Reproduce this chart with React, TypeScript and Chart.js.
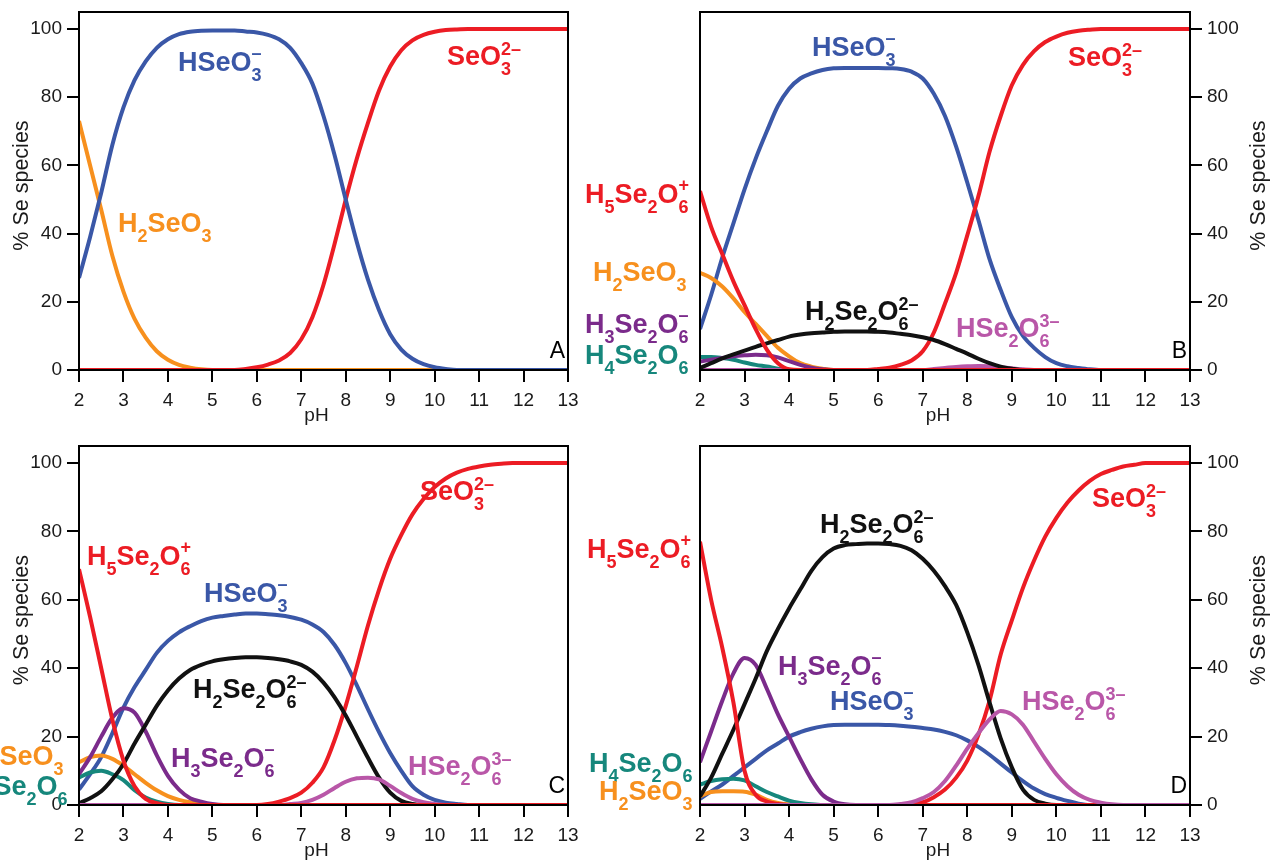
import React, { useEffect, useRef } from "react";
import { Chart, registerables } from "chart.js";

Chart.register(...registerables);

const W = 1270;
const H = 862;

// ---------- shared axis data ----------
const pH = [
  2, 2.25, 2.5, 2.75, 3, 3.25, 3.5, 3.75, 4, 4.25, 4.5, 4.75, 5, 5.25, 5.5, 5.75,
  6, 6.25, 6.5, 6.75, 7, 7.25, 7.5, 7.75, 8, 8.25, 8.5, 8.75, 9, 9.25, 9.5, 9.75,
  10, 10.25, 10.5, 10.75, 11, 11.25, 11.5, 11.75, 12, 12.25, 12.5, 12.75, 13,
];
const xTicks = [2, 3, 4, 5, 6, 7, 8, 9, 10, 11, 12, 13];
const yTicks = [0, 20, 40, 60, 80, 100];

// ---------- Panel A ----------
const A_H2SeO3 = [
  73, 60, 47, 33.5,
  23, 15, 9.5, 5.5,
  3, 1.5, 0.7, 0.2,
  0, 0, 0, 0,
  0, 0, 0, 0,
  0, 0, 0, 0,
  0, 0, 0, 0,
  0, 0, 0, 0,
  0, 0, 0, 0,
  0, 0, 0, 0,
  0, 0, 0, 0,
  0,
];
const A_HSeO3 = [
  27, 39, 52, 66,
  77, 85, 90.5, 94.5,
  97, 98.5, 99.2, 99.5,
  99.6, 99.6, 99.6, 99.3,
  99, 98.3, 97, 94.5,
  90, 84, 74.5, 63,
  50, 37.5, 26.5, 17.5,
  10.5, 6, 3.3, 1.7,
  0.8, 0.3, 0, 0,
  0, 0, 0, 0,
  0, 0, 0, 0,
  0,
];
const A_SeO3 = [
  0, 0, 0, 0,
  0, 0, 0, 0,
  0, 0, 0, 0,
  0, 0, 0, 0.3,
  0.8, 1.6, 2.8, 5,
  9, 15.5, 25, 37,
  50, 62, 72.5, 82,
  89, 93.8, 96.7, 98.3,
  99.2, 99.7, 99.9, 100,
  100, 100, 100, 100,
  100, 100, 100, 100,
  100,
];

// ---------- Panel B ----------
const B_H5Se2O6 = [
  52.5, 42, 34, 26,
  19, 12, 6, 2,
  0.2, 0, 0, 0,
  0, 0, 0, 0,
  0, 0, 0, 0,
  0, 0, 0, 0,
  0, 0, 0, 0,
  0, 0, 0, 0,
  0, 0, 0, 0,
  0, 0, 0, 0,
  0, 0, 0, 0,
  0,
];
const B_H2SeO3 = [
  28.5, 27, 24.5, 21,
  17, 13.5, 10, 6.5,
  4, 2, 1, 0.4,
  0, 0, 0, 0,
  0, 0, 0, 0,
  0, 0, 0, 0,
  0, 0, 0, 0,
  0, 0, 0, 0,
  0, 0, 0, 0,
  0, 0, 0, 0,
  0, 0, 0, 0,
  0,
];
const B_H3Se2O6 = [
  2.5, 3, 3.5, 4,
  4.3, 4.5, 4.3, 3.7,
  2.6, 1.5, 0.7, 0.2,
  0, 0, 0, 0,
  0, 0, 0, 0,
  0, 0, 0, 0,
  0, 0, 0, 0,
  0, 0, 0, 0,
  0, 0, 0, 0,
  0, 0, 0, 0,
  0, 0, 0, 0,
  0,
];
const B_H4Se2O6 = [
  3.8, 3.8, 3.5, 3,
  2.2, 1.5, 1, 0.4,
  0, 0, 0, 0,
  0, 0, 0, 0,
  0, 0, 0, 0,
  0, 0, 0, 0,
  0, 0, 0, 0,
  0, 0, 0, 0,
  0, 0, 0, 0,
  0, 0, 0, 0,
  0, 0, 0, 0,
  0,
];
const B_HSeO3 = [
  12, 22, 33, 43,
  53, 62, 70, 77.5,
  82.5, 85.5, 87, 88,
  88.5, 88.6, 88.6, 88.6,
  88.6, 88.5, 88.3, 87.5,
  85.5, 81, 74.5, 65.5,
  55, 44, 32.5, 23.5,
  15.5, 10, 6.5, 3.8,
  2, 1.1, 0.6, 0.2,
  0, 0, 0, 0,
  0, 0, 0, 0,
  0,
];
const B_H2Se2O6 = [
  0.6, 2, 3.4, 4.6,
  5.7, 6.8, 7.8, 8.8,
  9.8, 10.4, 10.8, 11,
  11.2, 11.3, 11.3, 11.3,
  11.2, 11, 10.6, 10.2,
  9.6, 8.8, 7.6, 6.2,
  4.8, 3.3, 2, 1,
  0.4, 0, 0, 0,
  0, 0, 0, 0,
  0, 0, 0, 0,
  0, 0, 0, 0,
  0,
];
const B_HSe2O6 = [
  0, 0, 0, 0,
  0, 0, 0, 0,
  0, 0, 0, 0,
  0, 0, 0, 0,
  0, 0, 0, 0,
  0, 0.3, 0.6, 0.9,
  1.1, 1.2, 1.1, 0.8,
  0.5, 0.2, 0, 0,
  0, 0, 0, 0,
  0, 0, 0, 0,
  0, 0, 0, 0,
  0,
];
const B_SeO3 = [
  0, 0, 0, 0,
  0, 0, 0, 0,
  0, 0, 0, 0,
  0, 0, 0, 0,
  0.3, 0.7, 1.5, 2.8,
  5.5, 11, 19.5, 28.5,
  39.5, 51, 64, 74.5,
  83.5, 89.5, 93.5, 96.2,
  97.8, 98.9, 99.5, 99.8,
  100, 100, 100, 100,
  100, 100, 100, 100,
  100,
];

// ---------- Panel C ----------
const C_H5Se2O6 = [
  69, 55, 40, 25,
  13, 5.5, 1.8, 0.5,
  0, 0, 0, 0,
  0, 0, 0, 0,
  0, 0, 0, 0,
  0, 0, 0, 0,
  0, 0, 0, 0,
  0, 0, 0, 0,
  0, 0, 0, 0,
  0, 0, 0, 0,
  0, 0, 0, 0,
  0,
];
const C_H2SeO3 = [
  12.5, 14, 14.5, 13.5,
  11.5, 9, 6.5, 4.3,
  2.6, 1.5, 0.8, 0.4,
  0, 0, 0, 0,
  0, 0, 0, 0,
  0, 0, 0, 0,
  0, 0, 0, 0,
  0, 0, 0, 0,
  0, 0, 0, 0,
  0, 0, 0, 0,
  0, 0, 0, 0,
  0,
];
const C_H4Se2O6 = [
  8, 9.5, 10, 9,
  7.3, 4.3, 2.2, 1,
  0.3, 0, 0, 0,
  0, 0, 0, 0,
  0, 0, 0, 0,
  0, 0, 0, 0,
  0, 0, 0, 0,
  0, 0, 0, 0,
  0, 0, 0, 0,
  0, 0, 0, 0,
  0, 0, 0, 0,
  0,
];
const C_H3Se2O6 = [
  9, 14, 20, 25.5,
  28.3, 27, 21.5, 14.5,
  8.5, 4.5, 2, 1,
  0.3, 0, 0, 0,
  0, 0, 0, 0,
  0, 0, 0, 0,
  0, 0, 0, 0,
  0, 0, 0, 0,
  0, 0, 0, 0,
  0, 0, 0, 0,
  0, 0, 0, 0,
  0,
];
const C_HSeO3 = [
  4.5, 9, 14, 21,
  28.5, 34.5, 39.5, 44.5,
  48, 50.5, 52.3, 53.8,
  54.8, 55.3, 55.7, 56,
  56, 55.8, 55.5, 55,
  54.2, 52.8, 50.6, 46.8,
  41.5, 35, 28, 21.3,
  15.2, 10, 5.5, 3,
  1.5, 0.7, 0.3, 0,
  0, 0, 0, 0,
  0, 0, 0, 0,
  0,
];
const C_H2Se2O6 = [
  0.5, 2, 4, 7.5,
  12, 18, 23.5, 29,
  33.5, 37, 39.5, 41,
  42, 42.6, 43, 43.2,
  43.2, 43, 42.6, 42,
  41, 39, 35.8, 31.5,
  26.2, 20, 13.8, 8,
  3.6, 1.2, 0.3, 0,
  0, 0, 0, 0,
  0, 0, 0, 0,
  0, 0, 0, 0,
  0,
];
const C_HSe2O6 = [
  0, 0, 0, 0,
  0, 0, 0, 0,
  0, 0, 0, 0,
  0, 0, 0, 0,
  0, 0, 0, 0.3,
  0.6, 1.5, 3, 5,
  6.8, 7.8, 8, 7.5,
  5.6, 3.5, 1.8, 0.8,
  0.3, 0, 0, 0,
  0, 0, 0, 0,
  0, 0, 0, 0,
  0,
];
const C_SeO3 = [
  0, 0, 0, 0,
  0, 0, 0, 0,
  0, 0, 0, 0,
  0, 0, 0, 0,
  0, 0.3, 1, 2,
  3.6, 6.5, 11, 19,
  29, 40.5, 52.5, 63,
  72, 79, 85, 89.5,
  93, 95.5, 97.2, 98.3,
  99, 99.5, 99.8, 100,
  100, 100, 100, 100,
  100,
];

// ---------- Panel D ----------
const D_H5Se2O6 = [
  77, 60, 46, 30,
  10, 3, 1, 0.3,
  0, 0, 0, 0,
  0, 0, 0, 0,
  0, 0, 0, 0,
  0, 0, 0, 0,
  0, 0, 0, 0,
  0, 0, 0, 0,
  0, 0, 0, 0,
  0, 0, 0, 0,
  0, 0, 0, 0,
  0,
];
const D_H2SeO3 = [
  2.5, 3.8, 4, 4,
  3.9, 3, 1.5, 0.6,
  0.2, 0, 0, 0,
  0, 0, 0, 0,
  0, 0, 0, 0,
  0, 0, 0, 0,
  0, 0, 0, 0,
  0, 0, 0, 0,
  0, 0, 0, 0,
  0, 0, 0, 0,
  0, 0, 0, 0,
  0,
];
const D_H4Se2O6 = [
  6, 7, 7.5, 7.7,
  7.2, 5.5, 3.8, 2.5,
  1.3, 0.6, 0.2, 0,
  0, 0, 0, 0,
  0, 0, 0, 0,
  0, 0, 0, 0,
  0, 0, 0, 0,
  0, 0, 0, 0,
  0, 0, 0, 0,
  0, 0, 0, 0,
  0, 0, 0, 0,
  0,
];
const D_H3Se2O6 = [
  12.5, 21.5, 30.5, 38.5,
  43, 41, 34, 26.5,
  20, 13.5, 7.5, 3,
  1, 0.2, 0, 0,
  0, 0, 0, 0,
  0, 0, 0, 0,
  0, 0, 0, 0,
  0, 0, 0, 0,
  0, 0, 0, 0,
  0, 0, 0, 0,
  0, 0, 0, 0,
  0,
];
const D_HSeO3 = [
  1.8, 4, 6, 8.5,
  11, 13.5, 16, 18,
  20, 21.3, 22.3, 23,
  23.4, 23.5, 23.5, 23.5,
  23.5, 23.4, 23.2, 22.9,
  22.5, 22.1, 21.4, 20.4,
  18.9, 17, 14.7, 12.1,
  9.5, 7, 4.8, 3.2,
  2.1, 1.2, 0.4, 0,
  0, 0, 0, 0,
  0, 0, 0, 0,
  0,
];
const D_H2Se2O6 = [
  2.5, 8, 15, 22,
  29.5, 37, 45, 51.5,
  57.5, 63, 68.5, 72.5,
  75, 76, 76.3, 76.5,
  76.5, 76.3, 75.8, 74.5,
  72, 68.5, 64, 58.5,
  50.5, 41, 30, 19.5,
  11, 4.5, 1.5, 0.4,
  0, 0, 0, 0,
  0, 0, 0, 0,
  0, 0, 0, 0,
  0,
];
const D_HSe2O6 = [
  0, 0, 0, 0,
  0, 0, 0, 0,
  0, 0, 0, 0,
  0, 0, 0, 0,
  0, 0, 0.3, 0.8,
  2, 3.8, 7, 11.5,
  16.5, 21, 25, 27.5,
  26.5, 23.5, 18.5, 13.5,
  9, 5.5, 3, 1.5,
  0.7, 0.2, 0, 0,
  0, 0, 0, 0,
  0,
];
const D_SeO3 = [
  0, 0, 0, 0,
  0, 0, 0, 0,
  0, 0, 0, 0,
  0, 0, 0, 0,
  0, 0, 0, 0.3,
  0.8, 2.3, 4.5, 8,
  13, 20.5, 30.5, 44,
  54, 63.5, 71.5, 78.5,
  84, 88.5, 92, 94.8,
  96.8, 98, 99, 99.5,
  100, 100, 100, 100,
  100,
];

// ---------- styles ----------
const COL = {
  blue: "#3a57a7",
  red: "#ec1c24",
  orange: "#f7901e",
  black: "#111111",
  purple: "#7b2b8b",
  teal: "#16877c",
  pink: "#b957a8",
};
const FONT_FAMILY = '"Liberation Sans", Arial, Helvetica, sans-serif';
const MAIN_FONT = `bold 27px ${FONT_FAMILY}`;
const SMALL_FONT = `bold 18px ${FONT_FAMILY}`;
const TICK_FONT = `19px ${FONT_FAMILY}`;
const TITLE_FONT = `21.5px ${FONT_FAMILY}`;

type Series = { values: number[]; color: string };
type Label = { text: string; color: string; x: number; y: number };
type PanelCfg = {
  id: string;
  letter: string;
  left: number;
  right: number;
  top: number;
  bottom: number;
  axisSide: "left" | "right";
  series: Series[];
  labels: Label[];
};

// series listed top-most first
const panels: PanelCfg[] = [
  {
    id: "A",
    letter: "A",
    left: 79,
    right: 568,
    top: 12,
    bottom: 370,
    axisSide: "left",
    series: [
      { values: A_HSeO3, color: COL.blue },
      { values: A_SeO3, color: COL.red },
      { values: A_H2SeO3, color: COL.orange },
    ],
    labels: [
      { text: "HSeO[–]{3}", color: COL.blue, x: 178, y: 71 },
      { text: "H{2}SeO{3}", color: COL.orange, x: 118, y: 232 },
      { text: "SeO[2–]{3}", color: COL.red, x: 447, y: 65 },
    ],
  },
  {
    id: "B",
    letter: "B",
    left: 700,
    right: 1190,
    top: 12,
    bottom: 370,
    axisSide: "right",
    series: [
      { values: B_H5Se2O6, color: COL.red },
      { values: B_H2Se2O6, color: COL.black },
      { values: B_HSe2O6, color: COL.pink },
      { values: B_SeO3, color: COL.red },
      { values: B_H3Se2O6, color: COL.purple },
      { values: B_H4Se2O6, color: COL.teal },
      { values: B_H2SeO3, color: COL.orange },
      { values: B_HSeO3, color: COL.blue },
    ],
    labels: [
      { text: "HSeO[–]{3}", color: COL.blue, x: 812, y: 56 },
      { text: "SeO[2–]{3}", color: COL.red, x: 1068, y: 66 },
      { text: "H{5}Se{2}O[+]{6}", color: COL.red, x: 585, y: 203 },
      { text: "H{2}SeO{3}", color: COL.orange, x: 593, y: 281 },
      { text: "H{3}Se{2}O[–]{6}", color: COL.purple, x: 585, y: 333 },
      { text: "H{4}Se{2}O{6}", color: COL.teal, x: 585, y: 364 },
      { text: "H{2}Se{2}O[2–]{6}", color: COL.black, x: 805, y: 320 },
      { text: "HSe{2}O[3–]{6}", color: COL.pink, x: 956, y: 337 },
    ],
  },
  {
    id: "C",
    letter: "C",
    left: 79,
    right: 568,
    top: 446,
    bottom: 805,
    axisSide: "left",
    series: [
      { values: C_H5Se2O6, color: COL.red },
      { values: C_HSe2O6, color: COL.pink },
      { values: C_H2Se2O6, color: COL.black },
      { values: C_SeO3, color: COL.red },
      { values: C_H3Se2O6, color: COL.purple },
      { values: C_H4Se2O6, color: COL.teal },
      { values: C_H2SeO3, color: COL.orange },
      { values: C_HSeO3, color: COL.blue },
    ],
    labels: [
      { text: "H{5}Se{2}O[+]{6}", color: COL.red, x: 87, y: 565 },
      { text: "HSeO[–]{3}", color: COL.blue, x: 204, y: 602 },
      { text: "H{2}Se{2}O[2–]{6}", color: COL.black, x: 193, y: 698 },
      { text: "H{3}Se{2}O[–]{6}", color: COL.purple, x: 171, y: 767 },
      { text: "HSe{2}O[3–]{6}", color: COL.pink, x: 408, y: 775 },
      { text: "SeO[2–]{3}", color: COL.red, x: 420, y: 500 },
      { text: "H{2}SeO{3}", color: COL.orange, x: -30, y: 765 },
      { text: "H{4}Se{2}O{6}", color: COL.teal, x: -36, y: 795 },
    ],
  },
  {
    id: "D",
    letter: "D",
    left: 700,
    right: 1190,
    top: 446,
    bottom: 805,
    axisSide: "right",
    series: [
      { values: D_HSe2O6, color: COL.pink },
      { values: D_H5Se2O6, color: COL.red },
      { values: D_H2Se2O6, color: COL.black },
      { values: D_SeO3, color: COL.red },
      { values: D_H3Se2O6, color: COL.purple },
      { values: D_H4Se2O6, color: COL.teal },
      { values: D_H2SeO3, color: COL.orange },
      { values: D_HSeO3, color: COL.blue },
    ],
    labels: [
      { text: "H{5}Se{2}O[+]{6}", color: COL.red, x: 587, y: 558 },
      { text: "H{2}Se{2}O[2–]{6}", color: COL.black, x: 820, y: 533 },
      { text: "H{3}Se{2}O[–]{6}", color: COL.purple, x: 778, y: 675 },
      { text: "HSeO[–]{3}", color: COL.blue, x: 830, y: 710 },
      { text: "HSe{2}O[3–]{6}", color: COL.pink, x: 1022, y: 710 },
      { text: "SeO[2–]{3}", color: COL.red, x: 1092, y: 507 },
      { text: "H{4}Se{2}O{6}", color: COL.teal, x: 589, y: 772 },
      { text: "H{2}SeO{3}", color: COL.orange, x: 599, y: 800 },
    ],
  },
];

// ---------- chemical formula drawing ----------
type Tok = { t: string; k: "n" | "sub" | "sup" };
function parseChem(text: string): Tok[] {
  const out: Tok[] = [];
  let buf = "";
  let i = 0;
  while (i < text.length) {
    const c = text[i];
    if (c === "{" || c === "[") {
      if (buf) {
        out.push({ t: buf, k: "n" });
        buf = "";
      }
      const close = c === "{" ? "}" : "]";
      const j = text.indexOf(close, i);
      out.push({ t: text.slice(i + 1, j), k: c === "{" ? "sub" : "sup" });
      i = j + 1;
    } else {
      buf += c;
      i++;
    }
  }
  if (buf) out.push({ t: buf, k: "n" });
  return out;
}

function drawChem(ctx: CanvasRenderingContext2D, lab: Label) {
  const toks = parseChem(lab.text);
  ctx.fillStyle = lab.color;
  ctx.textAlign = "left";
  ctx.textBaseline = "alphabetic";
  let cx = lab.x;
  const drawSS = (tk: Tok, x: number) => {
    ctx.font = SMALL_FONT;
    const dy = tk.k === "sub" ? 10 : tk.t.length === 1 ? -12 : -10;
    ctx.fillText(tk.t, x, lab.y + dy);
    return ctx.measureText(tk.t).width;
  };
  for (let k = 0; k < toks.length; k++) {
    const tk = toks[k];
    if (tk.k === "n") {
      ctx.font = MAIN_FONT;
      ctx.fillText(tk.t, cx, lab.y);
      cx += ctx.measureText(tk.t).width;
    } else {
      let w = drawSS(tk, cx);
      const nx = toks[k + 1];
      if (nx && nx.k !== "n" && nx.k !== tk.k) {
        w = Math.max(w, drawSS(nx, cx));
        k++;
      }
      cx += w;
    }
  }
}

function makePlugin(cfg: PanelCfg) {
  return {
    id: "panelDecor" + cfg.id,
    afterDraw(chart: any) {
      const ctx: CanvasRenderingContext2D = chart.ctx;
      const a = chart.chartArea;
      const xs = chart.scales.x;
      const ys = chart.scales.y;
      ctx.save();
      // frame
      ctx.strokeStyle = "#000";
      ctx.lineWidth = 2;
      ctx.strokeRect(a.left, a.top, a.right - a.left, a.bottom - a.top);
      // ticks
      ctx.beginPath();
      for (const t of xTicks) {
        const px = Math.round(xs.getPixelForValue(t));
        ctx.moveTo(px, a.bottom);
        ctx.lineTo(px, a.bottom + 12);
      }
      for (const t of yTicks) {
        const py = Math.round(ys.getPixelForValue(t));
        if (cfg.axisSide === "left") {
          ctx.moveTo(a.left, py);
          ctx.lineTo(a.left - 12, py);
        } else {
          ctx.moveTo(a.right, py);
          ctx.lineTo(a.right + 12, py);
        }
      }
      ctx.stroke();
      // tick labels
      ctx.fillStyle = "#1a1a1a";
      ctx.font = TICK_FONT;
      ctx.textAlign = "center";
      ctx.textBaseline = "alphabetic";
      for (const t of xTicks) {
        ctx.fillText(String(t), xs.getPixelForValue(t), a.bottom + 36);
      }
      ctx.textBaseline = "middle";
      for (const t of yTicks) {
        const py = ys.getPixelForValue(t);
        if (cfg.axisSide === "left") {
          ctx.textAlign = "right";
          ctx.fillText(String(t), a.left - 17, py);
        } else {
          ctx.textAlign = "left";
          ctx.fillText(String(t), a.right + 17, py);
        }
      }
      // axis titles
      ctx.textAlign = "center";
      ctx.textBaseline = "alphabetic";
      ctx.fillText("pH", (a.left + a.right) / 2 - 7, a.bottom + 51);
      const yMid = (ys.getPixelForValue(0) + ys.getPixelForValue(100)) / 2 - 14;
      const tx = cfg.axisSide === "left" ? 22 : 1259;
      ctx.save();
      ctx.translate(tx, yMid);
      ctx.rotate(-Math.PI / 2);
      ctx.font = TITLE_FONT;
      ctx.textBaseline = "middle";
      ctx.fillText("% Se species", 0, 0);
      ctx.restore();
      // panel letter
      ctx.font = `23px ${FONT_FAMILY}`;
      ctx.textAlign = "right";
      ctx.textBaseline = "alphabetic";
      ctx.fillStyle = "#000";
      ctx.fillText(cfg.letter, a.right - 3, a.bottom - 12);
      // species labels
      for (const lab of cfg.labels) drawChem(ctx, lab);
      ctx.restore();
    },
  };
}

function Panel({ cfg }: { cfg: PanelCfg }) {
  const ref = useRef<HTMLCanvasElement | null>(null);
  useEffect(() => {
    if (!ref.current) return;
    const chart = new Chart(ref.current, {
      type: "line",
      data: {
        datasets: cfg.series.map((s) => ({
          data: pH.map((x, i) => ({ x, y: s.values[i] })),
          borderColor: s.color,
          backgroundColor: s.color,
          borderWidth: 4,
          pointRadius: 0,
          cubicInterpolationMode: "monotone" as const,
          fill: false,
          clip: 0,
        })),
      },
      options: {
        responsive: false,
        animation: false,
        devicePixelRatio: 1,
        events: [],
        layout: {
          padding: {
            left: cfg.left,
            right: W - cfg.right,
            top: cfg.top,
            bottom: H - cfg.bottom,
          },
        },
        plugins: {
          legend: { display: false },
          tooltip: { enabled: false },
        },
        scales: {
          x: { type: "linear", min: 2, max: 13, display: false },
          y: { type: "linear", min: 0, max: 105, display: false },
        },
      },
      plugins: [makePlugin(cfg)],
    } as any);
    return () => chart.destroy();
  }, [cfg]);
  return (
    <canvas
      ref={ref}
      width={W}
      height={H}
      style={{ position: "absolute", left: 0, top: 0, width: W, height: H }}
    />
  );
}

export default function App() {
  return (
    <div
      style={{
        position: "absolute",
        left: 0,
        top: 0,
        width: W,
        height: H,
        background: "#fff",
        overflow: "hidden",
      }}
    >
      {panels.map((p) => (
        <Panel key={p.id} cfg={p} />
      ))}
    </div>
  );
}
